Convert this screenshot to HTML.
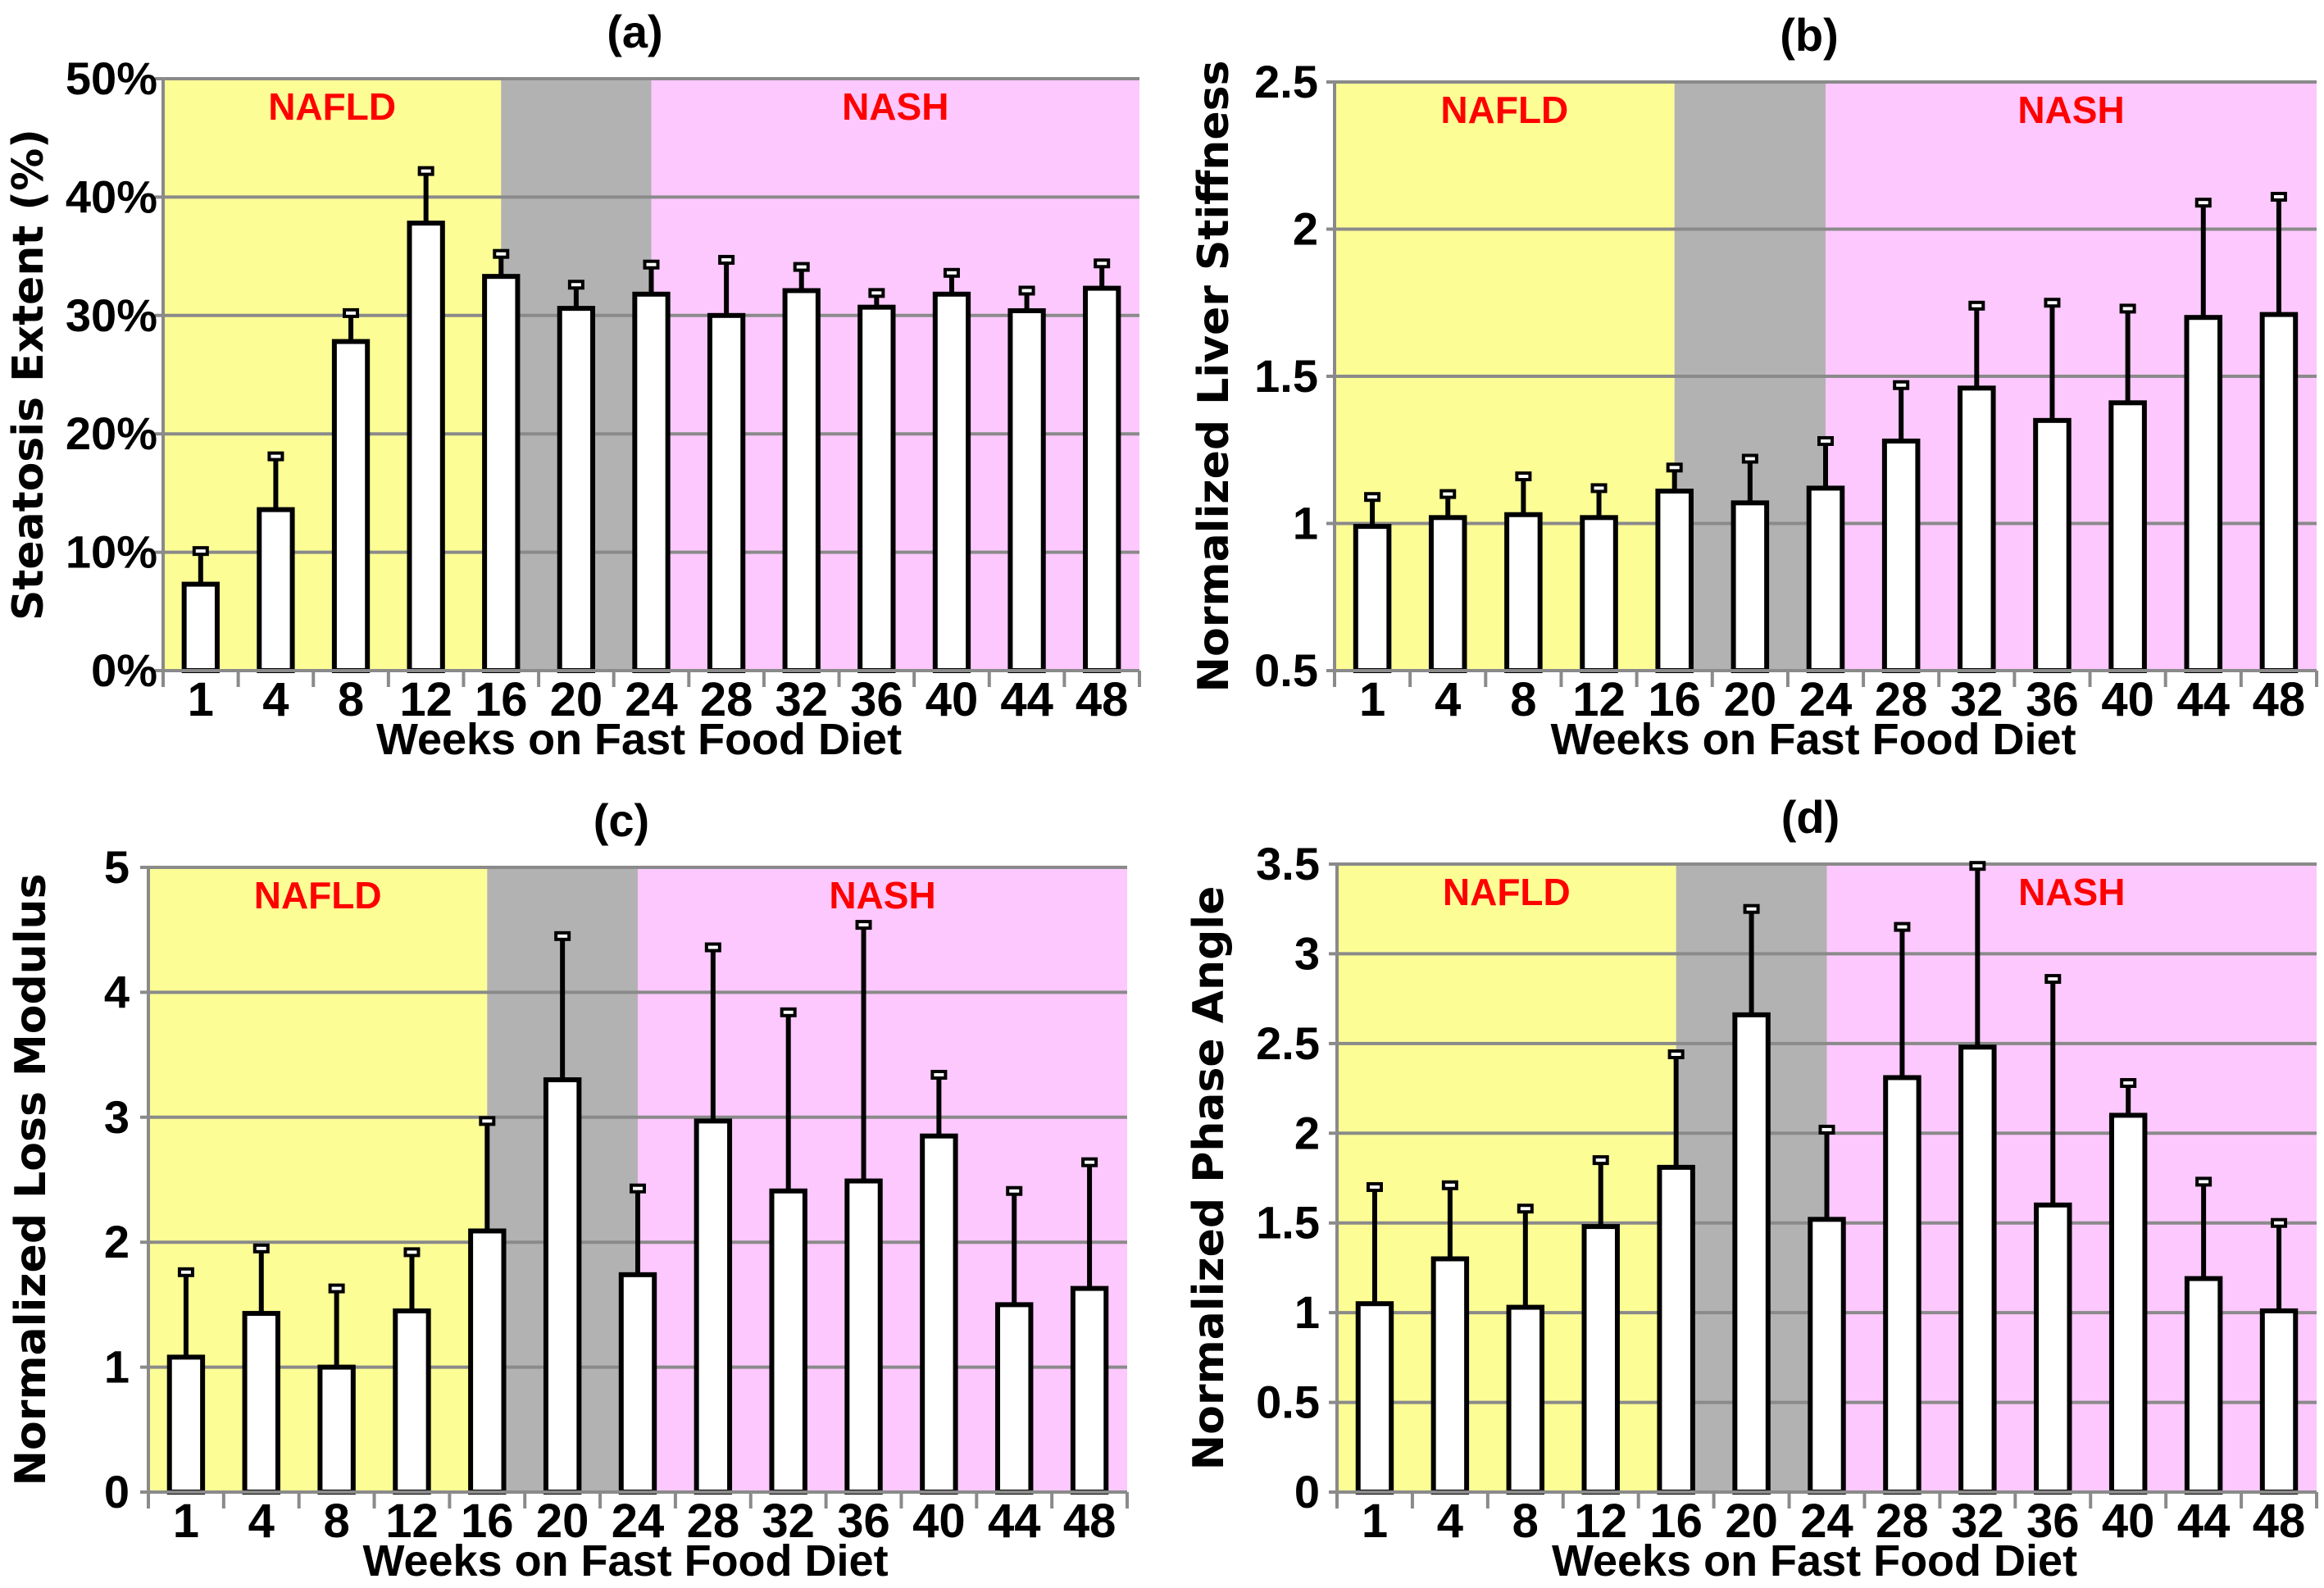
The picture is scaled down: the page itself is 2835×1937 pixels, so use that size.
<!DOCTYPE html>
<html><head><meta charset="utf-8"><style>
html,body{margin:0;padding:0;background:#fff}
svg{display:block}
text{font-family:"Liberation Sans Narrow","Liberation Sans",sans-serif;font-weight:bold}
</style></head><body>
<svg id="fig" width="2835" height="1937" viewBox="0 0 2835 1937" xmlns="http://www.w3.org/2000/svg"></svg>
<script>
const weeks = ["1","4","8","12","16","20","24","28","32","36","40","44","48"];
const aValues = [7.3,13.6,27.8,37.8,33.3,30.6,31.8,30.0,32.1,30.7,31.8,30.4,32.3];
const aErrTops = [10.1,18.1,30.2,42.2,35.2,32.6,34.3,34.7,34.1,31.9,33.6,32.1,34.4];
const aTicks = [0,10,20,30,40,50];
const aTickLabels = ["0%","10%","20%","30%","40%","50%"];
const bValues = [0.99,1.02,1.03,1.02,1.11,1.07,1.12,1.28,1.46,1.35,1.41,1.70,1.71];
const bErrTops = [1.09,1.10,1.16,1.12,1.19,1.22,1.28,1.47,1.74,1.75,1.73,2.09,2.11];
const bTicks = [0.5,1,1.5,2,2.5];
const bTickLabels = ["0.5","1","1.5","2","2.5"];
const cValues = [1.08,1.43,1.0,1.45,2.09,3.30,1.74,2.97,2.41,2.49,2.85,1.50,1.63];
const cErrTops = [1.76,1.95,1.63,1.92,2.97,4.45,2.43,4.36,3.84,4.54,3.34,2.41,2.64];
const cTicks = [0,1,2,3,4,5];
const cTickLabels = ["0","1","2","3","4","5"];
const dValues = [1.05,1.30,1.03,1.48,1.81,2.66,1.52,2.31,2.48,1.60,2.10,1.19,1.01];
const dErrTops = [1.70,1.71,1.58,1.85,2.44,3.25,2.02,3.15,3.49,2.86,2.28,1.73,1.50];
const dTicks = [0,0.5,1,1.5,2,2.5,3,3.5];
const dTickLabels = ["0","0.5","1","1.5","2","2.5","3","3.5"];

const NS="http://www.w3.org/2000/svg";
const svg=document.getElementById('fig');
function mk(tag,attrs,parent,txt){const e=document.createElementNS(NS,tag);for(const k in attrs)e.setAttribute(k,attrs[k]);if(txt!==undefined)e.textContent=txt;(parent||svg).appendChild(e);return e;}

function panel(id,title,yTitle,L,R,T,B,ymin,ymax,vals,tops,ticks,tickLabels,tickRight,yTitleX){
  const g=mk('g',{});
  
  
  const n=weeks.length, cw=(R-L)/n;
  const xc=i=>L+(i+0.5)*cw;
  const y=v=>B-(v-ymin)/(ymax-ymin)*(B-T);
  const xGray1=xc(4), xGray2=xc(6);
  const bgY=mk('rect',{x:L,y:T,width:xGray1-L,height:B-T,fill:'#fdfd96'},g);
  
  
  const bgG=mk('rect',{x:xGray1,y:T,width:xGray2-xGray1,height:B-T,fill:'#b2b2b2'},g);
  
  
  const bgP=mk('rect',{x:xGray2,y:T,width:R-xGray2,height:B-T,fill:'#fdc8fd'},g);
  
  
  ticks.forEach((t,i)=>{
    const gl=mk('line',{x1:L-10,x2:R,y1:y(t),y2:y(t),stroke:'#8a8a8a','stroke-width':4},g);
    
    
    const tl=mk('text',{x:tickRight,y:y(t)+19,'text-anchor':'end','font-size':56},g,tickLabels[i]);
    
    
  });
  const ya=mk('line',{x1:L,x2:L,y1:T,y2:B+20,stroke:'#8a8a8a','stroke-width':4},g);
  
  
  for(let i=1;i<=n;i++){
    const tk=mk('line',{x1:L+i*cw,x2:L+i*cw,y1:B,y2:B+20,stroke:'#8a8a8a','stroke-width':4},g);
    
    
  }
  const t1=mk('text',{x:L+(xGray1-L)*0.5,y:T+50,'text-anchor':'middle','font-size':46,fill:'#ff0000'},g,'NAFLD');
  
  
  const t2=mk('text',{x:(xGray2+R)/2,y:T+50,'text-anchor':'middle','font-size':46,fill:'#ff0000'},g,'NASH');
  
  
  const bw=cw*0.44;
  vals.forEach((v,i)=>{
    const e=mk('line',{x1:xc(i),x2:xc(i),y1:y(v),y2:y(tops[i]),stroke:'#000','stroke-width':6},g);
    
    
    const c=mk('rect',{x:xc(i)-8,y:y(tops[i])-4,width:16,height:8,fill:'#fff',stroke:'#000','stroke-width':4},g);
    
    
    const b=mk('rect',{x:xc(i)-bw/2,y:y(v),width:bw,height:B-y(v),fill:'#fff',stroke:'#000','stroke-width':6},g);
    
    
    const xl=mk('text',{x:xc(i),y:B+55,'text-anchor':'middle','font-size':58},g,weeks[i]);
    
    
  });
  const xa=mk('line',{x1:L,x2:R,y1:B,y2:B,stroke:'#8a8a8a','stroke-width':4},g);
  
  
  const xt=mk('text',{x:(L+R)/2-15,y:B+102,'text-anchor':'middle','font-size':54},g,'Weeks on Fast Food Diet');
  
  
  const tt=mk('text',{x:(L+R)/2-20,y:T-38,'text-anchor':'middle','font-size':56},g,title);
  
  
  const yc=(T+B)/2;
  const yt=mk('text',{x:yTitleX,y:yc,'text-anchor':'middle','font-size':52,transform:'rotate(-90 '+yTitleX+' '+yc+')',style:'font-family:"DejaVu Sans",sans-serif'},g,yTitle);
  
  
}
panel('a','(a)','Steatosis Extent (%)',199,1390,96,818,0,50,aValues,aErrTops,aTicks,aTickLabels,192,52);
panel('b','(b)','Normalized Liver Stiffness',1628,2826,100,818,0.5,2.5,bValues,bErrTops,bTicks,bTickLabels,1608,1498);
panel('c','(c)','Normalized Loss Modulus',181,1375,1058,1820,0,5,cValues,cErrTops,cTicks,cTickLabels,158,55);
panel('d','(d)','Normalized Phase Angle',1631,2826,1054,1820,0,3.5,dValues,dErrTops,dTicks,dTickLabels,1610,1492);
</script>
</body></html>
